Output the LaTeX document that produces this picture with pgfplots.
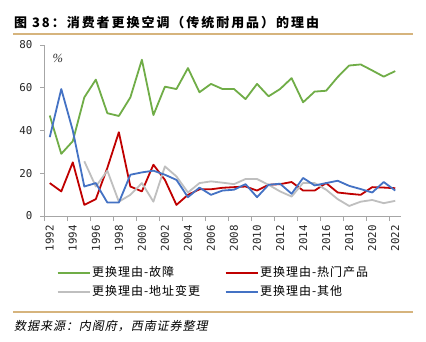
\documentclass[border=0pt]{standalone}
\usepackage{pgfplots}
\pgfplotsset{compat=1.18}
\usepackage{pgfplotstable}
\usepackage{fontspec}
\setmainfont{Liberation Serif}
\newfontfamily\cjk{Noto Sans CJK SC}
\newfontfamily\cjkit{Noto Sans CJK SC}[FakeSlant=0.2]
\newfontfamily\mono{DejaVu Sans Mono}
\definecolor{cgreen}{RGB}{112,173,71}
\definecolor{cred}{RGB}{192,0,0}
\definecolor{cgray}{RGB}{191,191,191}
\definecolor{cblue}{RGB}{68,114,196}
\definecolor{axgray}{RGB}{166,166,166}
\definecolor{rulec}{RGB}{214,180,125}

\pgfplotstableread{
year val
1992 47
1993 29.1
1994 35
1995 55.5
1996 63.8
1997 48.1
1998 46.8
1999 55.5
2000 73.1
2001 47.2
2002 60.5
2003 59.4
2004 69.2
2005 57.9
2006 61.8
2007 59.4
2008 59.4
2009 54.7
2010 61.8
2011 56
2012 59.4
2013 64.5
2014 53.2
2015 58.2
2016 58.6
2017 65
2018 70.4
2019 70.9
2020 68.1
2021 65.2
2022 67.8
}\tgreen

\pgfplotstableread{
year val
1992 15.4
1993 11.5
1994 25.1
1995 5.2
1996 7.9
1997 22.5
1998 39.2
1999 13.8
2000 11.5
2001 24
2002 16.9
2003 5.2
2004 9.9
2005 12.5
2006 12.5
2007 13.2
2008 13.5
2009 13.8
2010 11.9
2011 14.6
2012 14.9
2013 15.9
2014 11.9
2015 11.9
2016 15.4
2017 11
2018 10.4
2019 9.9
2020 13.5
2021 13.3
2022 13
}\tred

\pgfplotstableread{
year val
1995 25.6
1996 13.8
1997 21.2
1998 6.7
1999 9.9
2000 15.4
2001 6.7
2002 23.2
2003 18.5
2004 11
2005 15.4
2006 16.2
2007 15.6
2008 14.9
2009 17.3
2010 17.3
2011 14.6
2012 11.5
2013 9.1
2014 15.5
2015 15.4
2016 12.3
2017 7.9
2018 4.7
2019 6.7
2020 7.5
2021 6
2022 7.1
}\tgray

\pgfplotstableread{
year val
1992 36.9
1993 59.4
1994 40
1995 13.8
1996 15.4
1997 6.3
1998 6.3
1999 19.3
2000 20.4
2001 21.2
2002 19.3
2003 16.9
2004 8.8
2005 13.3
2006 9.9
2007 11.9
2008 12.3
2009 14.9
2010 8.8
2011 14.6
2012 15.1
2013 10.4
2014 17.8
2015 14.3
2016 15.4
2017 16.5
2018 14.1
2019 12.6
2020 11
2021 15.9
2022 11.9
}\tblue

\begin{document}
\begin{tikzpicture}
\useasboundingbox[fill=white] (0,0) rectangle (426pt,341pt);
\node[anchor=west, inner sep=0pt, font={\cjk\bfseries\fontsize{13}{15}\selectfont\addfontfeature{LetterSpace=15}}] at (14pt,318.5pt) {图 38：消费者更换空调（传统耐用品）的理由};
\draw[rulec, line width=2pt] (13pt,307pt) -- (413pt,307pt);
\draw[rulec, line width=2pt] (13pt,29pt) -- (413pt,29pt);
\node[anchor=west, inner sep=0pt, font={\cjkit\fontsize{12}{14}\selectfont\addfontfeature{LetterSpace=8}}] at (14pt,15pt) {数据来源：内阁府，西南证券整理};
\begin{axis}[
  at={(44pt,125pt)}, anchor=south west,
  width=357pt, height=171pt, scale only axis,
  xmin=1991.5, xmax=2022.5, ymin=0, ymax=80,
  axis lines=left,
  axis line style={-, draw=axgray, line width=0.9pt},
  tick align=outside,
  ytick={0,20,...,80},
  major tick length=4pt,
  minor tick length=5pt,
  xtick={1992,1994,...,2022},
  minor xtick={1991.5,1993.5,...,2022.5},
  every tick/.style={draw=axgray, line width=0.8pt},
  major x tick style={draw=none},
  /pgf/number format/1000 sep={},
  /pgf/number format/assume math mode=true,
  tick label style={font={\mono\fontsize{10.8}{12}\selectfont}, text=black!85},
  xticklabel style={yshift=-1.5pt, rotate=90, anchor=east},
  yticklabel style={xshift=-4pt},
  legend columns=2,
  legend cell align=left,
  legend style={at={(axis description cs:0.035,-0.285)}, anchor=north west,
    draw=none, fill=none, inner sep=0pt,
    font={\cjk\fontsize{12}{14}\selectfont\addfontfeature{LetterSpace=8}},
    nodes={inner sep=1.5pt, text height=10pt, text depth=3pt},
    row sep=3pt, column sep=0pt},
  legend image code/.code={\draw[#1, line width=2pt] (0pt,0pt) -- (32pt,0pt);},
  every axis plot/.append style={line width=1.8pt, line join=round, mark=none},
]
\addplot[cgreen] table[x=year, y=val] {\tgreen};
\addlegendentry{\makebox[131pt][l]{更换理由-故障}}
\addplot[cred] table[x=year, y=val] {\tred};
\addlegendentry{更换理由-热门产品}
\addplot[cgray] table[x=year, y=val] {\tgray};
\addlegendentry{\makebox[131pt][l]{更换理由-地址变更}}
\addplot[cblue] table[x=year, y=val] {\tblue};
\addlegendentry{更换理由-其他}
\node[font={\fontsize{12.5}{13}\selectfont\itshape}, text=black!80] at (axis cs:1992.7,73.8) {\%};
\end{axis}
\end{tikzpicture}
\end{document}
